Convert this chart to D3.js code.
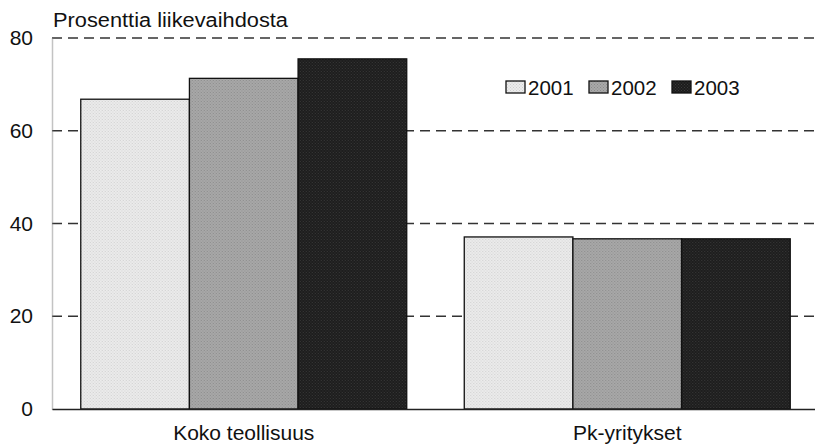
<!DOCTYPE html>
<html lang="fi">
<head>
<meta charset="UTF-8">
<script src="https://d3js.org/d3.v7.min.js"></script>
<style>
body { margin: 0; background: #fff; }
svg { font-family: "Liberation Sans", Arial, sans-serif; }
.grid line { stroke: #333; stroke-dasharray: 10 6; stroke-width: 1.3; }
.tick text { font-size: 21px; fill: #111; }
</style>
</head>
<body>
<svg width="815" height="444"></svg>
<script>
const categories = ["Koko teollisuus", "Pk-yritykset"];
const years = ["2001", "2002", "2003"];
const values2001 = [66.8, 37.1];
const values2002 = [71.3, 36.7];
const values2003 = [75.5, 36.7];
const yTicks = [0, 20, 40, 60, 80];

const data = categories.map((c, i) => ({
    cat: c,
    vals: [values2001[i], values2002[i], values2003[i]]
}));

const margin = {top: 38, right: -4, bottom: 35, left: 52};
const width = 815 - margin.left - margin.right;
const height = 444 - margin.top - margin.bottom;

const svg = d3.select("svg");

// fill patterns, a bit of grain like the scanned print
const defs = svg.append("defs");
const fills = ["#ececec", "#a9a9a9", "#1c1c1c"];
const dots = ["#cfcfcf", "#8a8a8a", "#3a3a3a"];
fills.forEach((f, i) => {
    const p = defs.append("pattern")
        .attr("id", "pat" + i)
        .attr("width", 3).attr("height", 3)
        .attr("patternUnits", "userSpaceOnUse");
    p.append("rect").attr("width", 3).attr("height", 3).attr("fill", f);
    p.append("rect").attr("width", 1).attr("height", 1).attr("fill", dots[i]);
    p.append("rect").attr("x", 1.5).attr("y", 1.5).attr("width", 1).attr("height", 1).attr("fill", dots[i]);
});

const g = svg.append("g").attr("transform", `translate(${margin.left},${margin.top})`);

const x0 = d3.scaleBand().domain(categories).range([0, width]).paddingInner(0.15).paddingOuter(0.075);
const x1 = d3.scaleBand().domain(years).range([0, x0.bandwidth()]);
const y = d3.scaleLinear().domain([0, 80]).range([height, 0]);

// gridlines
g.append("g")
    .attr("class", "grid")
    .selectAll("line")
    .data(yTicks.filter(d => d > 0))
    .join("line")
    .attr("x1", 0).attr("x2", width)
    .attr("y1", d => y(d)).attr("y2", d => y(d));

// bars
const groups = g.selectAll(".grp")
    .data(data)
    .join("g")
    .attr("class", "grp")
    .attr("transform", d => `translate(${x0(d.cat)},0)`);

groups.selectAll("rect")
    .data(d => d.vals.map((v, i) => ({year: years[i], v: v, i: i})))
    .join("rect")
    .attr("x", d => x1(d.year))
    .attr("y", d => y(d.v))
    .attr("width", x1.bandwidth())
    .attr("height", d => y(0) - y(d.v))
    .attr("fill", d => `url(#pat${d.i})`)
    .attr("stroke", "#111")
    .attr("stroke-width", 1.3);

// y axis
const yAxis = g.append("g")
    .call(d3.axisLeft(y).tickValues(yTicks).tickSize(0).tickPadding(19));
yAxis.select(".domain").attr("stroke", "#888").attr("stroke-dasharray", "1 1").attr("stroke-width", 1.5);

// x axis
const xAxis = g.append("g")
    .attr("transform", `translate(0,${height})`)
    .call(d3.axisBottom(x0).tickSize(0).tickPadding(16));
xAxis.select(".domain").attr("stroke", "#222").attr("stroke-width", 1.5);
xAxis.selectAll(".tick text").style("font-size", "21px");

// title
svg.append("text")
    .attr("x", 53).attr("y", 27)
    .style("font-size", "20px")
    .attr("textLength", 235)
    .attr("lengthAdjust", "spacingAndGlyphs")
    .attr("fill", "#111")
    .text("Prosenttia liikevaihdosta");

// legend
const legendX = [506, 589, 672];
const legend = svg.append("g");
years.forEach((yr, i) => {
    legend.append("rect")
        .attr("x", legendX[i]).attr("y", 81)
        .attr("width", 19).attr("height", 12)
        .attr("fill", `url(#pat${i})`)
        .attr("stroke", "#111").attr("stroke-width", 1.3);
    legend.append("text")
        .attr("x", legendX[i] + 22).attr("y", 95)
        .style("font-size", "20.5px")
        .attr("fill", "#111")
        .text(yr);
});
</script>
</body>
</html>
